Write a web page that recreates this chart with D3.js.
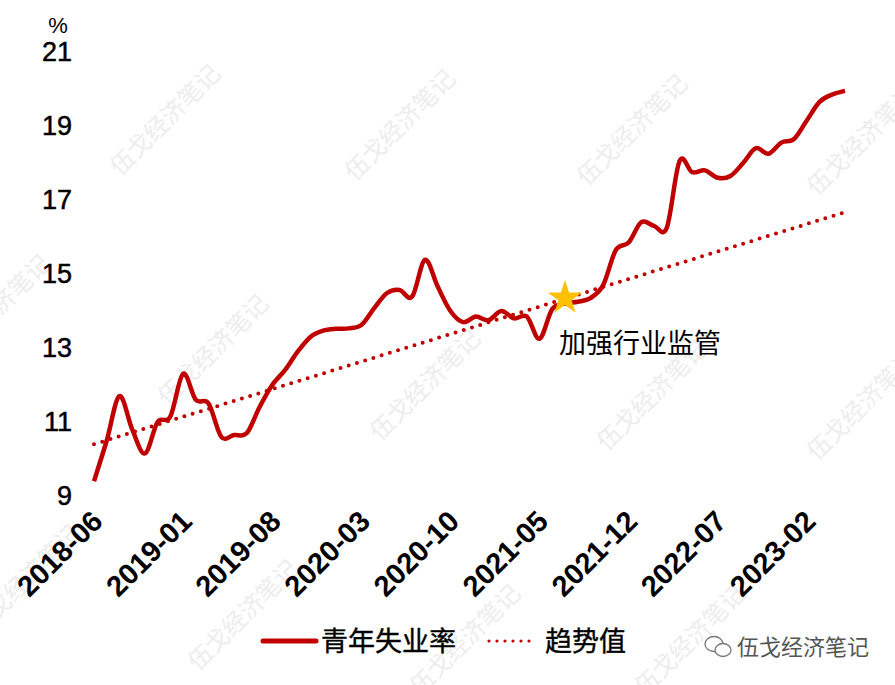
<!DOCTYPE html>
<html>
<head>
<meta charset="utf-8">
<script src="https://cdn.jsdelivr.net/npm/d3@7"></script>
<style>
  html, body { margin: 0; padding: 0; background: #fff; }
  svg { display: block; }
</style>
</head>
<body>
<svg id="chart" width="895" height="685"></svg>
<script>
// ---------------- DATA ----------------
const months = [
  "2018-06","2018-07","2018-08","2018-09","2018-10","2018-11","2018-12",
  "2019-01","2019-02","2019-03","2019-04","2019-05","2019-06","2019-07",
  "2019-08","2019-09","2019-10","2019-11","2019-12","2020-01","2020-02",
  "2020-03","2020-04","2020-05","2020-06","2020-07","2020-08","2020-09",
  "2020-10","2020-11","2020-12","2021-01","2021-02","2021-03","2021-04",
  "2021-05","2021-06","2021-07","2021-08","2021-09","2021-10","2021-11",
  "2021-12","2022-01","2022-02","2022-03","2022-04","2022-05","2022-06",
  "2022-07","2022-08","2022-09","2022-10","2022-11","2022-12","2023-01",
  "2023-02","2023-03","2023-04","2023-05"
];
const youthRate = [
  9.4, 10.5, 11.7, 10.8, 10.15, 11.0, 11.15,
  12.3, 11.6, 11.5, 10.6, 10.65, 10.7, 11.4,
  12.0, 12.4, 12.9, 13.3, 13.47, 13.52, 13.53,
  13.62, 14.07, 14.48, 14.57, 14.39, 15.38, 14.66,
  14.0, 13.7, 13.85, 13.75, 14.0, 13.8, 13.85,
  13.25, 14.05, 14.2, 14.25, 14.35, 14.7, 15.65,
  15.85, 16.4, 16.3, 16.25, 18.05, 17.75, 17.8,
  17.6, 17.65, 18.0, 18.4, 18.25, 18.55, 18.65,
  19.15, 19.65, 19.85, 19.95
];
// trend line endpoints (first month, last month)
const trendMonths = ["2018-06", "2023-05"];
const trendValues = [10.4, 16.67];
// annotation marker
const markerMonth = "2021-07";
const markerValue = 14.35;
const markerLabel = "加强行业监管";

const xTickLabels = ["2018-06","2019-01","2019-08","2020-03","2020-10","2021-05","2021-12","2022-07","2023-02"];
const yTicks = [9, 11, 13, 15, 17, 19, 21];
const seriesNames = ["青年失业率", "趋势值"];
const watermarkText = "伍戈经济笔记";

// ---------------- CHART ----------------
const svg = d3.select("#chart");
const RED = "#C00000";
const FONT = "'Liberation Sans', Arial, sans-serif";
const CJK = "'Noto Sans CJK SC', 'Noto Sans', sans-serif";

const x = d3.scalePoint().domain(months).range([94, 845]);
const y = d3.scaleLinear().domain([9, 21]).range([496, 52]);

// watermarks (background)
const wm = svg.append("g").attr("class", "watermarks");
const wmPos = [[165,120],[400,125],[632,130],[862,140],
               [-5,310],[213,350],[425,385],[652,395],[862,405],
               [25,580],[243,615],[465,640],[690,640]];
wmPos.forEach(([cx, cy]) => {
  wm.append("text")
    .attr("transform", `translate(${cx},${cy}) rotate(-45)`)
    .attr("text-anchor", "middle")
    .attr("dy", "0.35em")
    .style("font-family", CJK)
    .style("font-size", "24px")
    .style("fill", "#ededed")
    .text(watermarkText);
});

// y axis
const yAxis = svg.append("g")
  .attr("transform", "translate(74,0)")
  .call(d3.axisLeft(y).tickValues(yTicks).tickSize(0).tickPadding(2).tickFormat(d3.format("d")));
yAxis.select(".domain").remove();
yAxis.selectAll("text")
  .style("font-family", FONT)
  .style("font-size", "27px")
  .style("fill", "#000")
  .style("stroke", "#000")
  .style("stroke-width", 0.5);

svg.append("text")
  .attr("x", 58).attr("y", 33)
  .attr("text-anchor", "middle")
  .style("font-family", "'Liberation Sans Narrow', 'Liberation Sans', sans-serif")
  .style("font-size", "22px")
  .style("fill", "#000")
  .text("%");

// x axis
const xAxis = svg.append("g")
  .attr("transform", "translate(0,496)")
  .call(d3.axisBottom(x).tickValues(xTickLabels).tickSize(0));
xAxis.select(".domain").remove();
xAxis.selectAll("text")
  .attr("x", 0).attr("y", 0).attr("dy", 0)
  .attr("text-anchor", "end")
  .attr("transform", "translate(10,27) rotate(-45)")
  .style("font-family", FONT)
  .style("font-size", "29px")
  .style("font-weight", "bold")
  .style("fill", "#000");

// trend line
const trendData = trendMonths.map((m, i) => ({ m, v: trendValues[i] }));
svg.append("path")
  .datum(trendData)
  .attr("d", d3.line().x(d => x(d.m)).y(d => y(d.v)))
  .attr("fill", "none")
  .attr("stroke", RED)
  .attr("stroke-width", 4)
  .attr("stroke-linecap", "round")
  .attr("stroke-dasharray", "0 8.6");

// main line
const lineData = months.map((m, i) => ({ m, v: youthRate[i] }));
svg.append("path")
  .datum(lineData)
  .attr("d", d3.line().x(d => x(d.m)).y(d => y(d.v)).curve(d3.curveCardinal.tension(0)))
  .attr("fill", "none")
  .attr("stroke", RED)
  .attr("stroke-width", 4.5)
  .attr("stroke-linejoin", "round");

// star marker
svg.append("path")
  .attr("d", d3.symbol().type(d3.symbolStar).size(370)())
  .attr("transform", `translate(${x(markerMonth)},${y(markerValue)})`)
  .attr("fill", "#FFC000");

svg.append("text")
  .attr("x", 559).attr("y", 353)
  .style("font-family", CJK)
  .style("font-size", "27px")
  .style("fill", "#000")
  .text(markerLabel);

// legend
const lg = svg.append("g");
lg.append("line").attr("x1", 263).attr("x2", 316).attr("y1", 641).attr("y2", 641)
  .attr("stroke", RED).attr("stroke-width", 5).attr("stroke-linecap", "round");
lg.append("text").attr("x", 321).attr("y", 651)
  .style("font-family", CJK).style("font-size", "27px").style("fill", "#000")
  .style("stroke", "#000").style("stroke-width", 0.4)
  .text(seriesNames[0]);
lg.append("line").attr("x1", 489).attr("x2", 537).attr("y1", 641).attr("y2", 641)
  .attr("stroke", RED).attr("stroke-width", 3.2).attr("stroke-linecap", "round")
  .attr("stroke-dasharray", "0 8");
lg.append("text").attr("x", 545).attr("y", 651)
  .style("font-family", CJK).style("font-size", "27px").style("fill", "#000")
  .style("stroke", "#000").style("stroke-width", 0.4)
  .text(seriesNames[1]);

// bottom-right brand
const br = svg.append("g").attr("transform", "translate(718,647)");
br.append("ellipse").attr("cx", -4).attr("cy", -3).attr("rx", 9).attr("ry", 7.5)
  .attr("fill", "#fff").attr("stroke", "#777").attr("stroke-width", 1.3);
br.append("ellipse").attr("cx", 5).attr("cy", 3).attr("rx", 8).attr("ry", 6.5)
  .attr("fill", "#fff").attr("stroke", "#777").attr("stroke-width", 1.3);
svg.append("text").attr("x", 737).attr("y", 655)
  .style("font-family", CJK).style("font-size", "22px").style("fill", "#555")
  .text(watermarkText);
</script>
</body>
</html>
